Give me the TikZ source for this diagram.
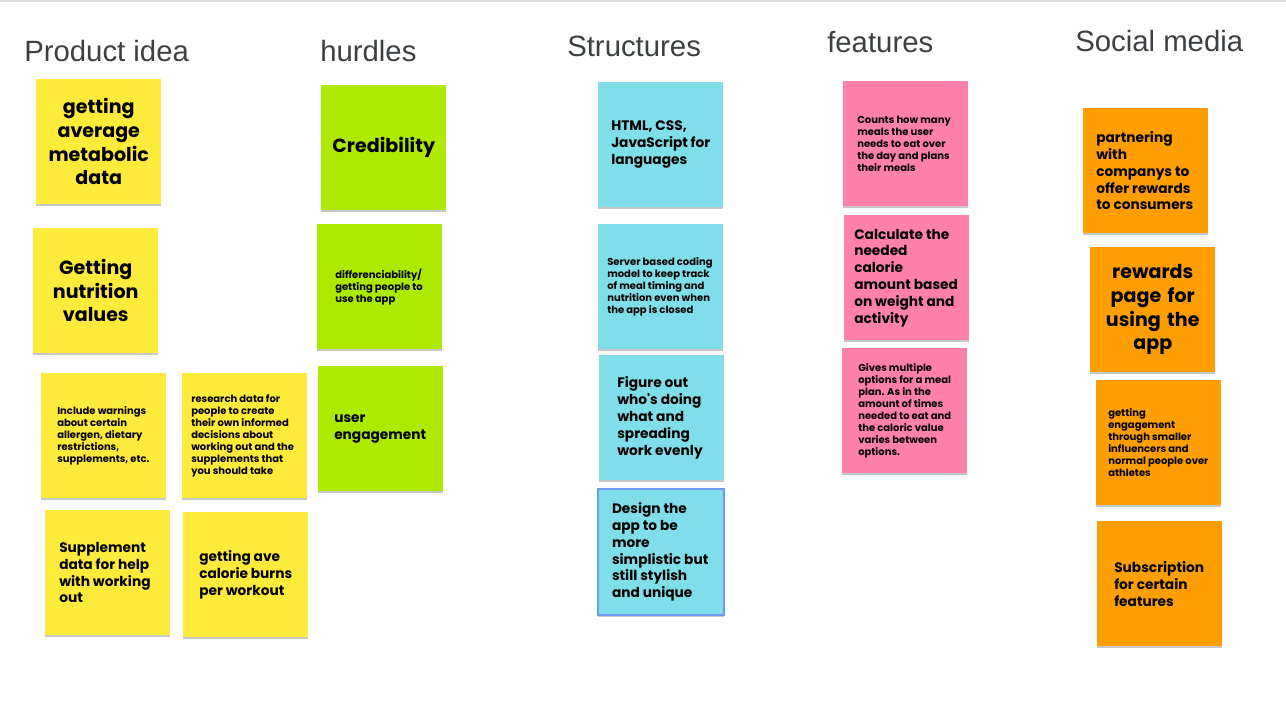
\documentclass[tikz,border=0pt]{standalone}
\usepackage{fontspec}
\usepackage{tikz}
\usetikzlibrary{shadows}
\newfontfamily\notefont{Poppins}
\newfontfamily\headfont{Liberation Sans}
\definecolor{headgray}{RGB}{60,64,67}
\definecolor{lightline}{RGB}{218,220,224}
\definecolor{noteyellow}{RGB}{255,235,59}
\definecolor{notegreen}{RGB}{174,234,0}
\definecolor{notecyan}{RGB}{128,222,234}
\definecolor{notepink}{RGB}{255,128,171}
\definecolor{noteorange}{RGB}{255,158,0}
\definecolor{selblue}{RGB}{108,156,240}

\begin{document}
\begin{tikzpicture}[x=0.75pt, y=-0.75pt,
  head/.style={anchor=base west, inner sep=0pt, text=headgray, font=\headfont\fontsize{22}{26}\selectfont},
  note/.style={rectangle, anchor=north west, minimum width=93.75pt, minimum height=93.75pt, inner ysep=0pt,
    drop shadow={shadow xshift=0pt, shadow yshift=-1.2pt, fill=black, opacity=.22}},
  pad/.code={\pgfmathsetmacro\padx{#1*0.75}\pgfmathsetmacro\padw{(125-2*#1)*0.75}%
    \tikzset{inner xsep=\padx pt, text width=\padw pt, align=flush left}},
  mid/.style={inner xsep=5.625pt, text width=82.5pt, align=center},
  large/.style={font=\notefont\bfseries\fontsize{14.3}{17.7}\selectfont},
  medium/.style={font=\notefont\bfseries\fontsize{10.3}{12.6}\selectfont},
  small/.style={font=\notefont\bfseries\fontsize{7.5}{9}\selectfont},
  yellow/.style={fill=noteyellow}, green/.style={fill=notegreen}, cyan/.style={fill=notecyan},
  pink/.style={fill=notepink}, orange/.style={fill=noteorange}]
\useasboundingbox (0,0) rectangle (1286,723);
\fill[white] (0,0) rectangle (1286,723);
\draw[lightline, line width=1.5pt] (0,1) -- (1286,1);

% column titles
\node[head] (tidea) at (24,62) {Product idea};
\node[head] (thurdles) at (320,62) {hurdles};
\node[head] (tstruct) at (567,57) {Structures};
\node[head] (tfeat) at (827,53) {features};
\node[head] (tsocial) at (1075,52) {Social media};

% product idea
\node[note, yellow, mid, large] (p1) at (36,79) {getting\\average\\metabolic\\data};
\node[note, yellow, mid, large] (p2) at (33,228) {Getting\\nutrition\\values};
\node[note, yellow, pad=16, small] (p3) at (41,373) {Include warnings\\about certain\\allergen, dietary\\restrictions,\\supplements, etc.};
\node[note, yellow, pad=9, small] (p4) at (182,373) {research data for\\people to create\\their own informed\\decisions about\\working out and the\\supplements that\\you should take};
\node[note, yellow, pad=14, medium] (p5) at (45,510) {Supplement\\data for help\\with working\\out};
\node[note, yellow, pad=16, medium] (p6) at (183,512) {getting ave\\calorie burns\\per workout};

% hurdles
\node[note, green, mid, large] (h1) at (321,85) {Credibility};
\node[note, green, pad=18, small] (h2) at (317,224) {differenciability/\\getting people to\\use the app};
\node[note, green, pad=16, medium] (h3) at (318,366) {user\\engagement};

% structures
\node[note, cyan, pad=13, medium] (s1) at (598,82) {HTML, CSS,\\JavaScript for\\languages};
\node[note, cyan, pad=9, small] (s2) at (598,224) {Server based coding\\model to keep track\\of meal timing and\\nutrition even when\\the app is closed};
\node[note, cyan, pad=15, medium, minimum width=94.5pt, minimum height=94.5pt, inner xsep=10.5pt, text width=73.5pt,
  draw=selblue, line width=1.5pt] (s4) at (597,488) {Design the\\app to be\\more\\simplistic but\\still stylish\\and unique};
\node[note, cyan, pad=18, medium] (s3) at (599,355) {Figure out\\who's doing\\what and\\spreading\\work evenly};

% features
\node[note, pink, pad=14, small] (f1) at (843,81) {Counts how many\\meals the user\\needs to eat over\\the day and plans\\their meals};
\node[note, pink, pad=10, medium] (f2) at (844,215) {Calculate the\\needed\\calorie\\amount based\\on weight and\\activity};
\node[note, pink, pad=16, small] (f3) at (842,348) {Gives multiple\\options for a meal\\plan. As in the\\amount of times\\needed to eat and\\the caloric value\\varies between\\options.};

% social media
\node[note, orange, pad=13, medium] (m1) at (1083,108) {partnering\\with\\companys to\\offer rewards\\to consumers};
\node[note, orange, mid, large] (m2) at (1090,247) {rewards\\page for\\using the\\app};
\node[note, orange, pad=12, small] (m3) at (1096,380) {getting\\engagement\\through smaller\\influencers and\\normal people over\\athletes};
\node[note, orange, pad=17, medium] (m4) at (1097,521) {Subscription\\for certain\\features};
\end{tikzpicture}
\end{document}
